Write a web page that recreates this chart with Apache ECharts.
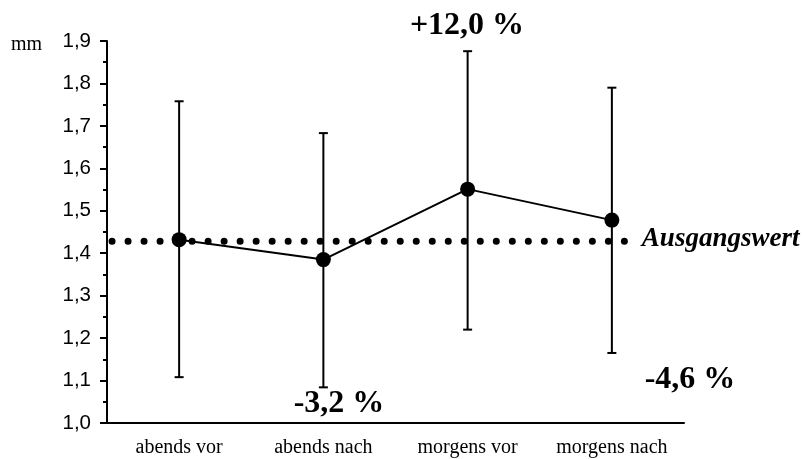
<!DOCTYPE html>
<html>
<head>
<meta charset="utf-8">
<script src="https://cdn.jsdelivr.net/npm/echarts@6/dist/echarts.min.js"></script>
<style>
  html, body { margin: 0; padding: 0; background: #fff; }
  #chart { width: 803px; height: 459px; }
</style>
</head>
<body>
<div id="chart"></div>
<script>
// Measurement times
const categories = ['abends vor', 'abends nach', 'morgens vor', 'morgens nach'];
// Mean value (mm) per time point
const means = [1.432, 1.385, 1.551, 1.478];
// Error bar extents (mm)
const lower = [1.108, 1.084, 1.220, 1.165];
const upper = [1.758, 1.683, 1.876, 1.790];
// Baseline value and its horizontal extent (in category-axis units, 0..4)
const baselineValue = 1.428;
const baselineSpan = [0.035, 3.59];
const baselineName = 'Ausgangswert';
// Relative changes shown as annotations
const changeLabels = ['-3,2 %', '+12,0 %', '-4,6 %'];
// Y-axis range
const yMin = 1.0, yMax = 1.9, yStep = 0.1;

const serif = '"Liberation Serif", "Times New Roman", serif';
const sans = '"Liberation Sans", Arial, sans-serif';

const chart = echarts.init(document.getElementById('chart'), null, { renderer: 'canvas' });

const option = {
  animation: false,
  backgroundColor: '#ffffff',
  grid: { left: 107, top: 41, width: 577, height: 382, containLabel: false },
  xAxis: [
    {
      type: 'category',
      data: categories,
      boundaryGap: true,
      axisLine: { lineStyle: { color: '#000', width: 2 } },
      axisTick: { alignWithLabel: true, length: 5, lineStyle: { color: '#000', width: 2 } },
      axisLabel: { interval: 0, hideOverlap: false, color: '#000', fontFamily: serif, fontSize: 20, margin: 15 },
      splitLine: { show: false }
    },
    {
      type: 'value',
      min: 0,
      max: 4,
      show: false
    }
  ],
  yAxis: {
    type: 'value',
    min: yMin,
    max: yMax,
    interval: yStep,
    axisLine: { show: true, lineStyle: { color: '#000', width: 2 } },
    axisTick: { show: true, length: 7, lineStyle: { color: '#000', width: 2 } },
    minorTick: { show: true, splitNumber: 2, length: 4, lineStyle: { color: '#000', width: 2 } },
    axisLabel: {
      color: '#000', fontFamily: sans, fontSize: 20.5, margin: 16,
      formatter: v => v.toFixed(1).replace('.', ',')
    },
    splitLine: { show: false }
  },
  series: [
    {
      // dotted baseline
      type: 'line',
      xAxisIndex: 1,
      data: [[baselineSpan[0], baselineValue], [baselineSpan[1], baselineValue]],
      symbol: 'none',
      lineStyle: { color: '#000', width: 7, type: [0.01, 16], cap: 'round' },
      endLabel: {
        show: true,
        formatter: baselineName,
        distance: 17,
        offset: [0, -2],
        color: '#000',
        fontFamily: serif,
        fontStyle: 'italic',
        fontWeight: 'bold',
        fontSize: 27
      },
      z: 1,
      silent: true
    },
    {
      // error bars
      type: 'custom',
      data: categories.map((c, i) => [i, lower[i], upper[i]]),
      renderItem: (params, api) => {
        const i = api.value(0);
        const lo = api.coord([i, api.value(1)]);
        const hi = api.coord([i, api.value(2)]);
        const half = 4.5;
        const style = { stroke: '#000', lineWidth: 2 };
        return {
          type: 'group',
          children: [
            { type: 'line', shape: { x1: hi[0], y1: hi[1], x2: lo[0], y2: lo[1] }, style },
            { type: 'line', shape: { x1: hi[0] - half, y1: hi[1], x2: hi[0] + half, y2: hi[1] }, style },
            { type: 'line', shape: { x1: lo[0] - half, y1: lo[1], x2: lo[0] + half, y2: lo[1] }, style }
          ]
        };
      },
      z: 2,
      silent: true
    },
    {
      // mean values
      type: 'line',
      data: means,
      symbol: 'circle',
      symbolSize: 15,
      itemStyle: { color: '#000' },
      lineStyle: { color: '#000', width: 2 },
      z: 3,
      silent: true
    }
  ],
  graphic: [
    {
      type: 'text', left: 11, top: 35,
      style: { text: 'mm', fill: '#000', font: '20px ' + serif }
    },
    {
      type: 'text', x: 339, y: 404,
      style: { text: changeLabels[0], fill: '#000', font: 'bold 32px ' + serif, align: 'center', verticalAlign: 'middle' }
    },
    {
      type: 'text', x: 467, y: 26,
      style: { text: changeLabels[1], fill: '#000', font: 'bold 32px ' + serif, align: 'center', verticalAlign: 'middle' }
    },
    {
      type: 'text', x: 690, y: 380,
      style: { text: changeLabels[2], fill: '#000', font: 'bold 32px ' + serif, align: 'center', verticalAlign: 'middle' }
    }
  ]
};

chart.setOption(option);
</script>
</body>
</html>
